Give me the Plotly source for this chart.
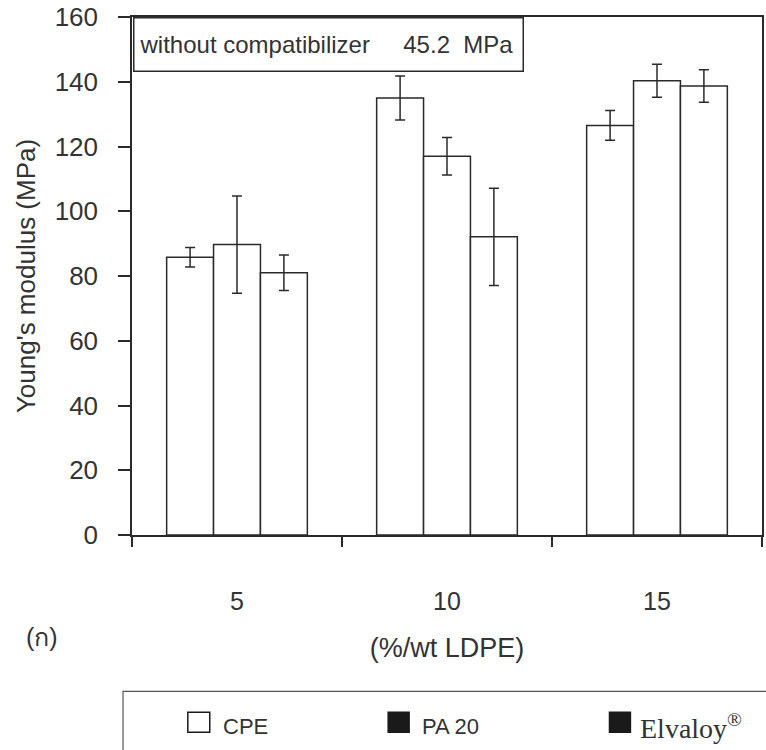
import plotly.graph_objects as go

# ---- data ----
categories = ["5", "10", "15"]
series_names = ["CPE", "PA 20", "Elvaloy"]
cpe = [85.8, 135.0, 126.5]
cpe_err = [3.0, 6.8, 4.6]
pa20 = [89.7, 117.0, 140.3]
pa20_err = [15.0, 5.8, 5.1]
elvaloy = [81.0, 92.1, 138.7]
elvaloy_err = [5.5, 15.0, 5.0]
y_ticks = [0, 20, 40, 60, 80, 100, 120, 140, 160]
note_text = "without compatibilizer     45.2  MPa"

W, H = 766, 750
L, R, T, B = 132, 2, 15, 215
PW, PH = W - L - R, H - T - B

def px(x):
    return (x - L) / PW

def py(y):
    return (H - B - y) / PH

FONT = "Liberation Sans, Arial, sans-serif"
TXT = "#333333"
LINE = "#2a2a2a"

fig = go.Figure()
for vals, errs, name in [(cpe, cpe_err, series_names[0]),
                         (pa20, pa20_err, series_names[1]),
                         (elvaloy, elvaloy_err, series_names[2])]:
    fig.add_trace(go.Bar(
        x=categories, y=vals, name=name, showlegend=False,
        marker=dict(color="white", line=dict(color=LINE, width=1.5)),
        error_y=dict(type="data", array=errs, visible=True,
                     color=LINE, thickness=1.5, width=5),
    ))

fig.update_layout(
    width=W, height=H,
    margin=dict(l=L, r=R, t=T, b=B),
    paper_bgcolor="white", plot_bgcolor="white",
    barmode="group", bargap=0.33, bargroupgap=0,
    font=dict(family=FONT, color=TXT, size=24),
    showlegend=False,
)
fig.update_xaxes(
    type="category", range=[-0.5, 2.5],
    showline=True, linecolor=LINE, linewidth=1.5, mirror=True,
    ticks="outside", tickson="boundaries", ticklen=10, tickwidth=1.5, tickcolor=LINE,
    tickfont=dict(size=25, color=TXT), ticklabelstandoff=43,
    showgrid=False, zeroline=False,
    title=dict(text="(%/wt LDPE)", font=dict(size=27, color=TXT), standoff=24),
)
fig.update_yaxes(
    range=[0, 160], tickvals=y_ticks,
    showline=True, linecolor=LINE, linewidth=1.5, mirror=True,
    ticks="outside", ticklen=12, tickwidth=1.5, tickcolor=LINE,
    tickfont=dict(size=26, color=TXT), ticklabelstandoff=15,
    showgrid=False, zeroline=False,
    title=dict(text="Young's modulus (MPa)", font=dict(size=26, color=TXT), standoff=12),
)

# note box
fig.add_annotation(
    xref="paper", yref="paper", x=px(133), y=py(15), xanchor="left", yanchor="top",
    text=note_text.replace(" ", "&nbsp;"), showarrow=False, align="left",
    font=dict(size=24, color=TXT), bordercolor=LINE, borderwidth=1.5,
    borderpad=5, width=378, height=42,
)

# panel label
fig.add_annotation(xref="paper", yref="paper", x=px(42), y=py(637),
                   text="(ก)", showarrow=False, font=dict(size=25, color=TXT),
                   xanchor="center", yanchor="middle")

# legend box (manual)
fig.add_shape(type="rect", xref="paper", yref="paper",
              x0=px(123), x1=px(800), y0=py(692), y1=py(800),
              line=dict(color="#555555", width=1.2), fillcolor="white", layer="below")
items = [(188, 210, "white", 221, "CPE", FONT, 22),
         (389, 410, "#1a1a1a", 421, "PA 20", FONT, 22),
         (611, 632, "#1a1a1a", 640, "Elvaloy<sup>®</sup>", "Liberation Serif, Times New Roman, serif", 28)]
for x0, x1, fc, tx, label, fam, fs in items:
    fig.add_shape(type="rect", xref="paper", yref="paper",
                  x0=px(x0), x1=px(x1), y0=py(733), y1=py(713),
                  line=dict(color="#1a1a1a", width=1.5), fillcolor=fc)
    fig.add_annotation(xref="paper", yref="paper", x=px(tx), y=py(727),
                       text=label, showarrow=False, xanchor="left", yanchor="middle",
                       font=dict(size=fs, color=TXT, family=fam))

fig.write_html("out.html")
